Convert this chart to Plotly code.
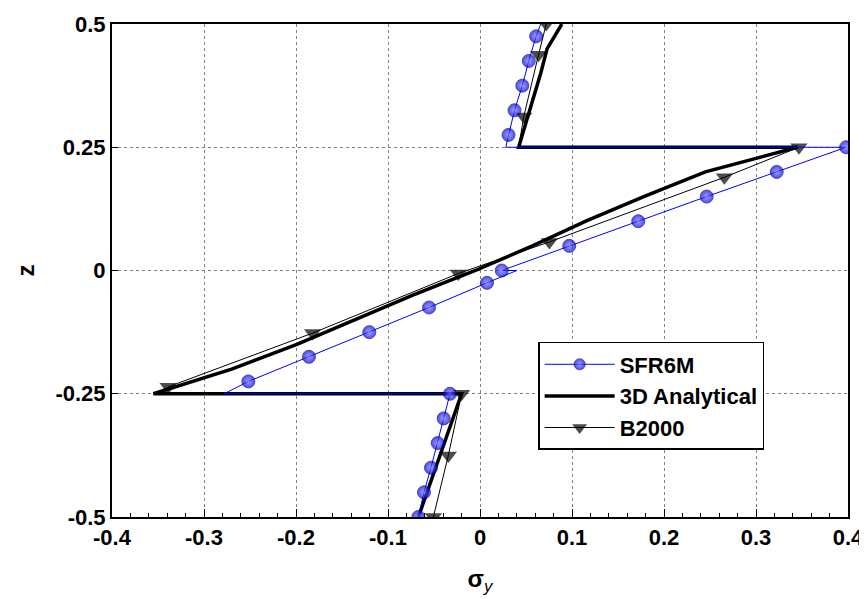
import plotly.graph_objects as go

# SFR6M (blue line with shaded circle markers); marker flag 1 = circle drawn
sfr_x = [-0.067, -0.0609, -0.0533, -0.046, -0.0395, -0.0326,
         -0.278, -0.2518, -0.1859, -0.1203, -0.0554, 0.0076, 0.040,
         0.0236, 0.097, 0.172, 0.2464, 0.3225, 0.398,
         0.028, 0.031, 0.0375, 0.046, 0.053, 0.061, 0.066]
sfr_z = [-0.5, -0.45, -0.4, -0.35, -0.3, -0.25,
         -0.25, -0.225, -0.175, -0.125, -0.075, -0.025, 0.0,
         0.0, 0.05, 0.1, 0.15, 0.2, 0.25,
         0.25, 0.275, 0.325, 0.375, 0.425, 0.475, 0.5]
sfr_mark = [1, 1, 1, 1, 1, 1,
            0, 1, 1, 1, 1, 1, 0,
            1, 1, 1, 1, 1, 1,
            0, 1, 1, 1, 1, 1, 0]

# 3D Analytical (thick black line)
ana_x = [-0.067, -0.02,
         -0.355, -0.27, -0.199, -0.135, -0.073, -0.005, 0.057, 0.115, 0.178, 0.245, 0.345,
         0.042, 0.05, 0.058, 0.066, 0.073, 0.089]
ana_z = [-0.5, -0.25,
         -0.25, -0.2, -0.15, -0.1, -0.05, 0.0, 0.05, 0.1, 0.15, 0.2, 0.25,
         0.25, 0.3, 0.35, 0.4, 0.45, 0.5]

# B2000 (thin black line with down triangles)
b2k_x = [-0.0507, -0.0344, -0.02,
         -0.352, -0.339, -0.182, -0.0235, 0.0754, 0.2656, 0.3467,
         0.042, 0.0476, 0.0636, 0.072]
b2k_z = [-0.5, -0.375, -0.25,
         -0.25, -0.236, -0.127, -0.006, 0.058, 0.189, 0.25,
         0.25, 0.3125, 0.4375, 0.5]
b2k_mark = [1, 1, 1,
            0, 1, 1, 1, 1, 1, 1,
            0, 1, 1, 1]

x_ticks = [-0.4, -0.3, -0.2, -0.1, 0, 0.1, 0.2, 0.3, 0.4]
x_labels = ["-0.4", "-0.3", "-0.2", "-0.1", "0", "0.1", "0.2", "0.3", "0.4"]
z_ticks = [-0.5, -0.25, 0, 0.25, 0.5]
z_labels = ["-0.5", "-0.25", "0", "0.25", "0.5"]

FONT = "Arial, Liberation Sans, sans-serif"

fig = go.Figure()

fig.add_trace(go.Scatter(
    x=ana_x, y=ana_z, name="<b>3D Analytical</b>", mode="lines",
    line=dict(color="black", width=3.5), legendrank=2))

fig.add_trace(go.Scatter(
    x=b2k_x, y=b2k_z, name="<b>B2000</b>", mode="lines+markers",
    line=dict(color="black", width=1),
    marker=dict(symbol="triangle-down", color="black",
                size=[15 * m for m in b2k_mark], line=dict(width=0)),
    legendrank=3))

fig.add_trace(go.Scatter(
    x=sfr_x, y=sfr_z, name="<b>SFR6M</b>", mode="lines+markers",
    line=dict(color="#0000ff", width=1),
    marker=dict(symbol="circle", color="#0000e0",
                size=[13 * m for m in sfr_mark],
                gradient=dict(type="radial", color="#7c7cff"),
                line=dict(color="#000080", width=1)),
    legendrank=1))

fig.update_layout(
    width=867, height=599,
    margin=dict(l=104, r=27, t=16, b=90),
    plot_bgcolor="white", paper_bgcolor="white",
    font=dict(family=FONT, color="black", size=20),
    showlegend=True,
    legend=dict(x=0.579, y=0.355, xanchor="left", yanchor="top",
                bgcolor="white", bordercolor="black", borderwidth=1.5,
                font=dict(size=22, family=FONT), itemwidth=70,
                tracegroupgap=0),
    xaxis=dict(range=[-0.4, 0.4], tickvals=x_ticks, ticktext=[f"<b>{t}</b>" for t in x_labels],
               automargin=False,
               showgrid=True, gridcolor="#808080", griddash="dot", gridwidth=1,
               zeroline=False, showline=True, linecolor="black", linewidth=2, mirror=True,
               ticks="inside", ticklen=8, tickcolor="black",
               minor=dict(dtick=0.02, ticks="inside", ticklen=4, tickcolor="black", showgrid=False),
               tickfont=dict(size=22),
               title=dict(text="<b>σ</b><sub><i>y</i></sub>", font=dict(size=24), standoff=21)),
    yaxis=dict(range=[-0.5, 0.5], tickvals=z_ticks, ticktext=[f"<b>{t}</b>" for t in z_labels],
               automargin=False,
               showgrid=True, gridcolor="#808080", griddash="dot", gridwidth=1,
               zeroline=False, showline=True, linecolor="black", linewidth=2, mirror=True,
               ticks="inside", ticklen=6, tickcolor="black",
               tickfont=dict(size=22),
               title=dict(text="<b>z</b>", font=dict(size=24), standoff=14)),
)

fig.write_html("out.html")
